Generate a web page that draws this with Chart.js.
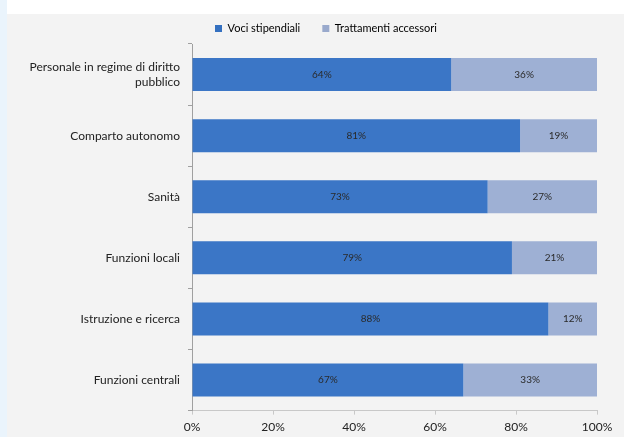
<!DOCTYPE html>
<html>
<head>
<meta charset="utf-8">
<script src="https://cdn.jsdelivr.net/npm/chart.js@4"></script>
<style>
html,body{margin:0;padding:0;background:#fff;}
#strip{position:absolute;left:0;top:0;width:7px;height:437px;background:#eaf4fc;}
#pannello{position:absolute;left:7px;top:14px;width:617px;height:423px;background:#f3f3f3;}
</style>
</head>
<body>
<div id="strip"></div>
<div id="pannello"><canvas id="grafico" width="617" height="423"></canvas></div>
<script>
var categorie=[
    ["Personale in regime di diritto","pubblico"],
    "Comparto autonomo",
    "Sanità",
    "Funzioni locali",
    "Istruzione e ricerca",
    "Funzioni centrali"
];
var vociStipendiali=[64,81,73,79,88,67];
var trattamentiAccessori=[36,19,27,21,12,33];
var tickX=[0,20,40,60,80,100];

var fontBase="Lato, 'Open Sans', sans-serif";

// etichette percentuali dentro le barre
var etichetteBarre={
    id:"etichetteBarre",
    afterDatasetsDraw:function(chart){
        var ctx=chart.ctx;
        ctx.save();
        ctx.font="10px "+fontBase;
        ctx.fillStyle="#2a2a2a";
        ctx.textAlign="center";
        ctx.textBaseline="middle";
        chart.data.datasets.forEach(function(ds,i){
            var meta=chart.getDatasetMeta(i);
            meta.data.forEach(function(bar,j){
                var p=bar.getProps(["x","y","base"],true);
                ctx.fillText(ds.data[j]+"%",(p.x+p.base)/2,p.y);
            });
        });
        ctx.restore();
    }
};

// sposta un po' la legenda verso destra come nell'originale
var spostaLegenda={
    id:"spostaLegenda",
    afterLayout:function(chart){
        chart.legend.left+=22;
        chart.legend.right+=22;
    }
};

function gradiente(c1,c2){
    return function(context){
        var chart=context.chart;
        var el=context.element;
        if(!chart.chartArea || !el) return c1;
        var p=el.getProps(["y","height"],true);
        if(!isFinite(p.y) || !isFinite(p.height)) return c1;
        var h=p.height;
        var g=chart.ctx.createLinearGradient(0,p.y-h/2,0,p.y+h/2);
        g.addColorStop(0,c1);
        g.addColorStop(1,c2);
        return g;
    };
}

window.addEventListener("load",function(){
    Chart.defaults.font.family=fontBase;
    Chart.defaults.color="#222";
    new Chart(document.getElementById("grafico"),{
        type:"bar",
        data:{
            labels:categorie,
            datasets:[{
                label:"Voci stipendiali",
                data:vociStipendiali,
                backgroundColor:gradiente("#3b76c6","#2c5ea6"),
                borderWidth:0,
                barPercentage:0.54,
                categoryPercentage:1
            },{
                label:"Trattamenti accessori",
                data:trattamentiAccessori,
                backgroundColor:gradiente("#9eb0d4","#8494b8"),
                borderWidth:0,
                barPercentage:0.54,
                categoryPercentage:1
            }]
        },
        options:{
            indexAxis:"y",
            responsive:false,
            animation:false,
            layout:{padding:{left:18,right:27,top:1,bottom:-2}},
            plugins:{
                legend:{
                    position:"top",
                    labels:{
                        boxWidth:7,
                        boxHeight:7,
                        padding:8,
                        font:{size:11},
                        color:"#222",
                        generateLabels:function(chart){
                            var cols=["#3470c0","#99a9cc"];
                            return chart.data.datasets.map(function(ds,i){
                                return {text:ds.label+"     ",fillStyle:cols[i],strokeStyle:cols[i],lineWidth:0,datasetIndex:i};
                            });
                        }
                    }
                },
                tooltip:{enabled:false}
            },
            scales:{
                x:{
                    stacked:true,
                    min:0,
                    max:100,
                    afterBuildTicks:function(scale){
                        scale.ticks=tickX.map(function(v){return {value:v};});
                    },
                    ticks:{
                        callback:function(v){return v+"%";},
                        font:{size:12},
                        color:"#222",
                        padding:5
                    },
                    grid:{drawOnChartArea:false,tickLength:4,color:"#c8c8c8"},
                    border:{color:"#c8c8c8"}
                },
                y:{
                    stacked:true,
                    afterFit:function(scale){scale.width=167;},
                    ticks:{font:{size:12},color:"#222",padding:8},
                    grid:{drawOnChartArea:false,tickLength:4,offset:true,color:"#a0a0a0"},
                    border:{color:"#a0a0a0"}
                }
            }
        },
        plugins:[etichetteBarre,spostaLegenda]
    });
});
</script>
</body>
</html>
